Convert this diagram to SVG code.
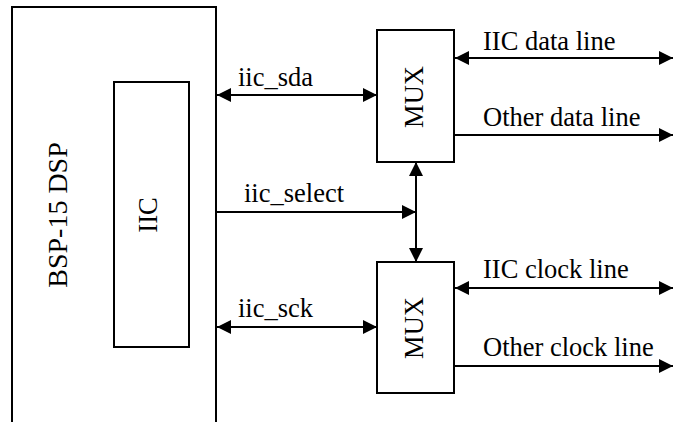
<svg xmlns="http://www.w3.org/2000/svg" width="673" height="422" viewBox="0 0 673 422">
<style>
.box{fill:#fff;stroke:#000;stroke-width:2}
.ln{stroke:#000;stroke-width:2;fill:none}
text{font-family:"Liberation Serif","Times New Roman",serif;font-size:26.5px;fill:#000}
.big{font-size:28px}
</style>
<defs>
<marker id="ah" viewBox="0 0 14 14" refX="14" refY="7" markerWidth="14" markerHeight="14" markerUnits="userSpaceOnUse" orient="auto-start-reverse">
<path d="M0,0 L14,7 L0,14 Z" fill="#000"/>
</marker>
</defs>
<g id="bsp">
<path class="ln" d="M12,430 V7 H216 V430"/>
<text class="big" transform="translate(67,215) rotate(-90)" text-anchor="middle">BSP-15 DSP</text>
</g>
<g id="iic">
<rect class="box" x="114" y="82" width="75" height="265"/>
<text transform="translate(157,215) rotate(-90)" text-anchor="middle">IIC</text>
</g>
<g id="mux1">
<rect class="box" x="377" y="30" width="77" height="132"/>
<text transform="translate(423,97) rotate(-90)" text-anchor="middle">MUX</text>
</g>
<g id="mux2">
<rect class="box" x="377" y="262" width="77" height="131"/>
<text transform="translate(423,328) rotate(-90)" text-anchor="middle">MUX</text>
</g>
<g id="connectors">
<line class="ln" x1="217" y1="95" x2="377" y2="95" marker-start="url(#ah)" marker-end="url(#ah)"/>
<line class="ln" x1="217" y1="212" x2="416" y2="212" marker-end="url(#ah)"/>
<line class="ln" x1="416" y1="162" x2="416" y2="262" marker-start="url(#ah)" marker-end="url(#ah)"/>
<line class="ln" x1="217" y1="327" x2="377" y2="327" marker-start="url(#ah)" marker-end="url(#ah)"/>
<line class="ln" x1="455" y1="58" x2="673" y2="58" marker-start="url(#ah)" marker-end="url(#ah)"/>
<line class="ln" x1="455" y1="135" x2="673" y2="135" marker-end="url(#ah)"/>
<line class="ln" x1="455" y1="288" x2="673" y2="288" marker-start="url(#ah)" marker-end="url(#ah)"/>
<line class="ln" x1="455" y1="366" x2="673" y2="366" marker-end="url(#ah)"/>
</g>
<g id="labels">
<text x="238" y="86">iic_sda</text>
<text x="244" y="202">iic_select</text>
<text x="238" y="317">iic_sck</text>
<text x="483" y="50">IIC data line</text>
<text x="483" y="126">Other data line</text>
<text x="483" y="278">IIC clock line</text>
<text x="483" y="356">Other clock line</text>
</g>
</svg>
